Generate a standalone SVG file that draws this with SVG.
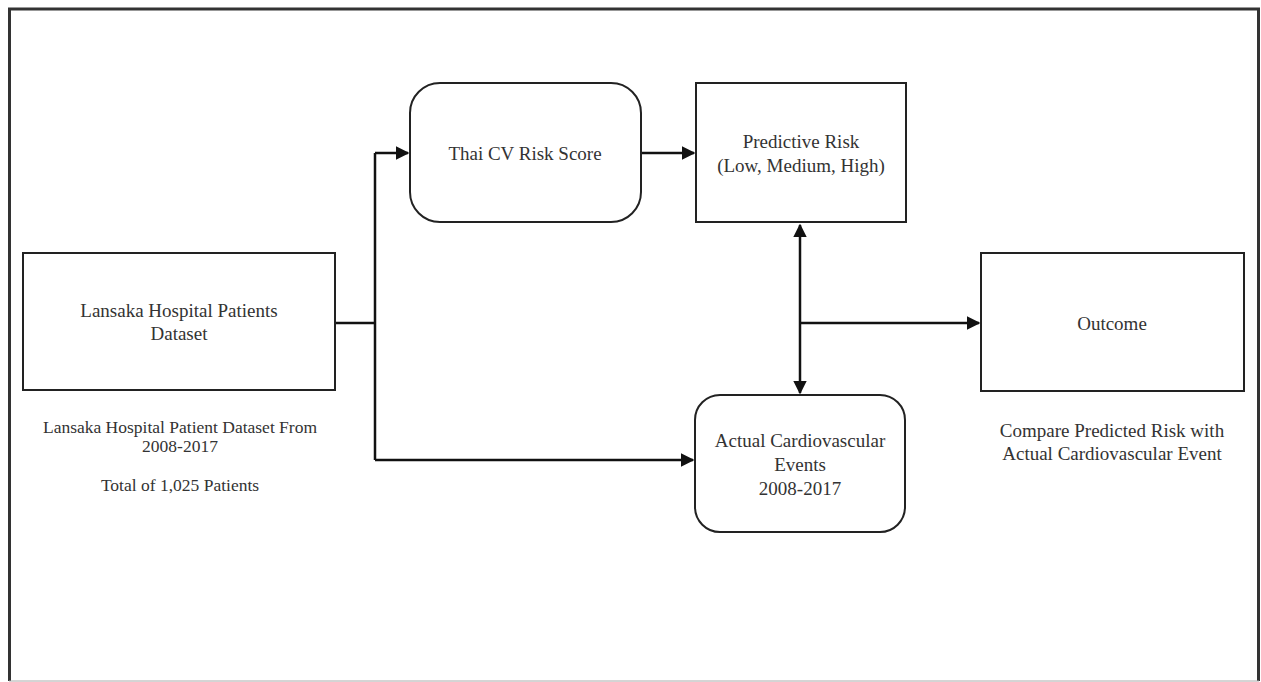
<svg xmlns="http://www.w3.org/2000/svg" width="1261" height="682" viewBox="0 0 1261 682">
<style>
.box{fill:#fff;stroke:#222;stroke-width:2}
.t{font-family:"Liberation Serif","Times New Roman",serif;font-size:19px;fill:#333;text-anchor:middle}
.s{font-size:17.5px}
.c{fill:none;stroke:#111;stroke-width:2.5}
</style>
<defs>
<marker id="ah" viewBox="0 0 10 10" refX="9" refY="5" markerWidth="5.5" markerHeight="5.5" orient="auto-start-reverse" markerUnits="strokeWidth">
<path d="M0,0 L10,5 L0,10 z" fill="#111"/>
</marker>
</defs>
<rect x="0" y="0" width="1261" height="682" fill="#fff"/>
<path d="M9.5,681 V9 H1258.5 V681" fill="none" stroke="#333" stroke-width="3"/>
<line x1="9" y1="681" x2="1259" y2="681" stroke="#aaa" stroke-width="1"/>
<g id="connectors">
<path class="c" d="M335,323 H375 M375,153 V460"/>
<path class="c" d="M375,153 H408" marker-end="url(#ah)"/>
<path class="c" d="M375,460 H693" marker-end="url(#ah)"/>
<path class="c" d="M641,153 H694" marker-end="url(#ah)"/>
<path class="c" d="M800,225 V393" marker-start="url(#ah)" marker-end="url(#ah)"/>
<path class="c" d="M800,323 H979" marker-end="url(#ah)"/>
</g>
<g id="dataset">
<rect class="box" x="23" y="253" width="312" height="137"/>
<text class="t" x="179" y="317">Lansaka Hospital Patients</text>
<text class="t" x="179" y="340">Dataset</text>
</g>
<g id="dataset-caption">
<text class="t s" x="180" y="433">Lansaka Hospital Patient Dataset From</text>
<text class="t s" x="180" y="452">2008-2017</text>
<text class="t s" x="180" y="491">Total of 1,025 Patients</text>
</g>
<g id="thai">
<rect class="box" x="410" y="83" width="231" height="139" rx="30"/>
<text class="t" x="525" y="160">Thai CV Risk Score</text>
</g>
<g id="predictive">
<rect class="box" x="696" y="83" width="210" height="139"/>
<text class="t" x="801" y="148">Predictive Risk</text>
<text class="t" x="801" y="172">(Low, Medium, High)</text>
</g>
<g id="actual">
<rect class="box" x="695" y="395" width="210" height="137" rx="25"/>
<text class="t" x="800" y="447">Actual Cardiovascular</text>
<text class="t" x="800" y="471">Events</text>
<text class="t" x="800" y="495">2008-2017</text>
</g>
<g id="outcome">
<rect class="box" x="981" y="253" width="263" height="138"/>
<text class="t" x="1112" y="330">Outcome</text>
</g>
<g id="outcome-caption">
<text class="t" x="1112" y="437">Compare Predicted Risk with</text>
<text class="t" x="1112" y="460">Actual Cardiovascular Event</text>
</g>
</svg>
